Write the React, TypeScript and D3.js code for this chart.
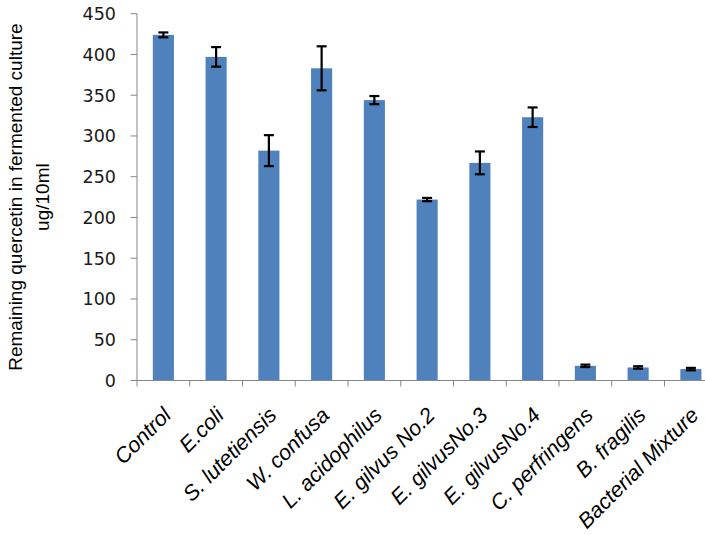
import React from "react";
import * as d3 from "d3";

const categories = [
  "Control",
  "E.coli",
  "S. lutetiensis",
  "W. confusa",
  "L. acidophilus",
  "E. gilvus No.2",
  "E. gilvusNo.3",
  "E. gilvusNo.4",
  "C. perfringens",
  "B. fragilis",
  "Bacterial Mixture",
];
const values = [424, 397, 282, 383, 344, 222, 267, 323, 18, 16, 14];
const errors = [3, 12, 19, 27, 5, 2, 14, 12, 1.5, 1.5, 1.5];
const yTicks = [0, 50, 100, 150, 200, 250, 300, 350, 400, 450];
const yTitle1 = "Remaining quercetin in fermented culture";
const yTitle2 = "ug/10ml";

const W = 705;
const H = 535;
const left = 137;
const top = 13.7;
const bottom = 380.5;
const step = 52.75;

export default function App() {
  const x = d3
    .scaleBand<string>()
    .domain(categories)
    .range([left, left + step * categories.length])
    .paddingInner(0.6)
    .paddingOuter(0.3);
  const y = d3.scaleLinear().domain([0, 450]).range([bottom, top]);
  const axisColor = "#868686";
  const bw = x.bandwidth();
  const capW = 10;

  return (
    <svg
      width={W}
      height={H}
      style={{ position: "absolute", left: 0, top: 0, background: "#fff" }}
    >
      <rect x={0} y={0} width={W} height={H} fill="#fff" />
      {categories.map((c, i) => (
        <rect
          key={c}
          x={x(c)!}
          y={y(values[i])}
          width={bw}
          height={y(0) - y(values[i])}
          fill="#4F81BD"
        />
      ))}
      {categories.map((c, i) => {
        const cx = x(c)! + bw / 2;
        const y1 = y(values[i] + errors[i]);
        const y2 = y(values[i] - errors[i]);
        return (
          <g key={"e" + c} stroke="#000" strokeWidth={2.2}>
            <line x1={cx} x2={cx} y1={y1} y2={y2} />
            <line x1={cx - capW / 2} x2={cx + capW / 2} y1={y1} y2={y1} />
            <line x1={cx - capW / 2} x2={cx + capW / 2} y1={y2} y2={y2} />
          </g>
        );
      })}
      <line x1={left} x2={left} y1={top} y2={bottom} stroke={axisColor} strokeWidth={1} />
      {yTicks.map((t) => (
        <g key={t}>
          <line x1={left - 6.5} x2={left} y1={y(t)} y2={y(t)} stroke={axisColor} />
          <text
            x={116}
            y={y(t)}
            dy="0.36em"
            textAnchor="end"
            fontFamily="DejaVu Sans"
            fontSize={17.5}
            fill="#1a1a1a"
          >
            {t}
          </text>
        </g>
      ))}
      <line x1={left} x2={left + step * categories.length} y1={bottom} y2={bottom} stroke={axisColor} />
      {d3.range(categories.length + 1).map((i) => (
        <line
          key={"t" + i}
          x1={left + i * step}
          x2={left + i * step}
          y1={bottom}
          y2={bottom + 6}
          stroke={axisColor}
        />
      ))}
      {categories.map((c) => {
        const cx = x(c)! + bw / 2;
        return (
          <text
            key={"l" + c}
            transform={`translate(${cx + 9},${bottom + 36}) rotate(-45)`}
            textAnchor="end"
            fontFamily="Liberation Sans, Arial, sans-serif"
            fontStyle="italic"
            fontSize={21.5}
            fill="#000"
          >
            {c}
          </text>
        );
      })}
      <g transform={`translate(0,${(top + bottom) / 2}) rotate(-90)`}>
        <text
          x={0}
          y={22}
          textAnchor="middle"
          fontFamily="Liberation Sans, Arial, sans-serif"
          fontSize={19}
          fill="#000"
        >
          {yTitle1}
        </text>
        <text
          x={0}
          y={49}
          textAnchor="middle"
          fontFamily="Liberation Sans, Arial, sans-serif"
          fontSize={19}
          fill="#000"
        >
          {yTitle2}
        </text>
      </g>
    </svg>
  );
}
